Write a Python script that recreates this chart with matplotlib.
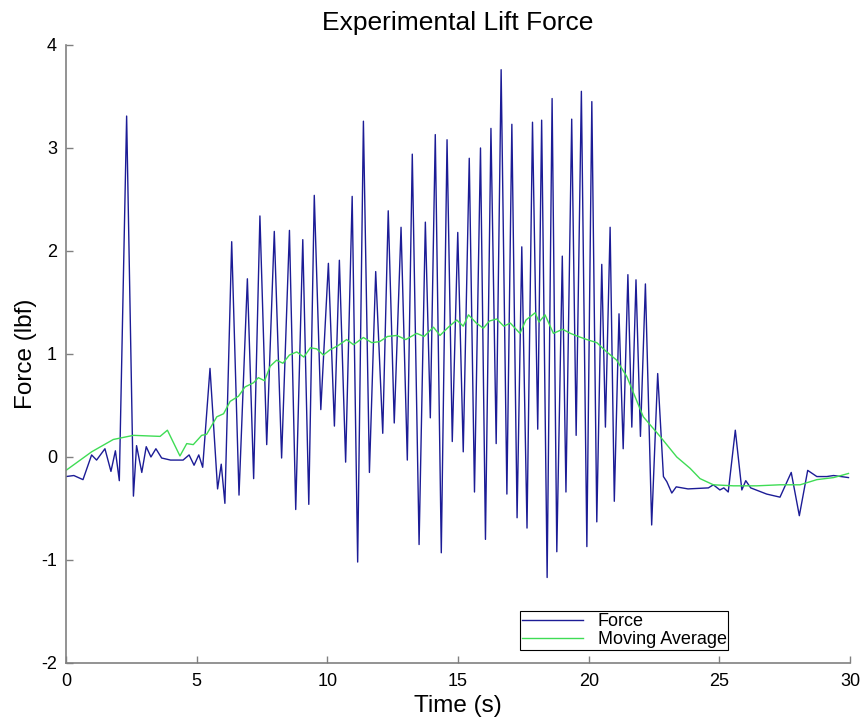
import matplotlib
matplotlib.use('Agg')
import matplotlib.pyplot as plt

# force signal at its turning points
force_t = [0.0, 0.3, 0.65, 0.98, 1.17, 1.49, 1.72, 1.89, 2.04, 2.32,
           2.58, 2.70, 2.90, 3.07, 3.25, 3.44, 3.66, 4.0, 4.48, 4.71,
           4.90, 5.08, 5.23, 5.51, 5.80, 5.94, 6.08, 6.34, 6.62, 6.94,
           7.18, 7.42, 7.68, 7.97, 8.25, 8.55, 8.79, 9.06, 9.29, 9.50,
           9.75, 10.04, 10.27, 10.46, 10.70, 10.95, 11.16, 11.38, 11.61, 11.85,
           12.12, 12.33, 12.56, 12.82, 13.06, 13.25, 13.51, 13.75, 13.94, 14.13,
           14.36, 14.58, 14.78, 14.99, 15.20, 15.43, 15.63, 15.86, 16.05, 16.26,
           16.46, 16.65, 16.87, 17.06, 17.26, 17.44, 17.64, 17.85, 18.05, 18.20,
           18.41, 18.60, 18.78, 18.99, 19.13, 19.35, 19.52, 19.72, 19.93, 20.12,
           20.31, 20.50, 20.64, 20.82, 20.98, 21.16, 21.32, 21.50, 21.65, 21.81,
           21.98, 22.17, 22.41, 22.64, 22.86, 22.99, 23.18, 23.35, 23.8, 24.58,
           24.77, 25.02, 25.17, 25.34, 25.61, 25.86, 26.01, 26.20, 26.81, 27.32,
           27.75, 28.06, 28.38, 28.73, 29.11, 29.37, 29.94]
force_v = [-0.19, -0.18, -0.22, 0.02, -0.03, 0.08, -0.14, 0.06, -0.23, 3.31,
           -0.38, 0.11, -0.15, 0.10, 0.0, 0.08, -0.01, -0.03, -0.03, 0.02,
           -0.08, 0.02, -0.10, 0.86, -0.31, -0.07, -0.45, 2.09, -0.37, 1.73,
           -0.21, 2.34, 0.12, 2.19, -0.01, 2.20, -0.51, 2.11, -0.46, 2.54,
           0.46, 1.88, 0.30, 1.91, -0.05, 2.53, -1.02, 3.26, -0.15, 1.80,
           0.23, 2.39, 0.33, 2.23, -0.03, 2.94, -0.85, 2.28, 0.38, 3.13,
           -0.93, 3.08, 0.15, 2.18, 0.05, 2.90, -0.34, 3.00, -0.80, 3.19,
           0.13, 3.76, -0.36, 3.23, -0.59, 2.04, -0.69, 3.25, 0.27, 3.27,
           -1.17, 3.48, -0.92, 1.95, -0.34, 3.28, 0.21, 3.55, -0.87, 3.45,
           -0.63, 1.87, 0.29, 2.23, -0.43, 1.39, 0.08, 1.77, 0.29, 1.72,
           0.20, 1.68, -0.66, 0.81, -0.19, -0.24, -0.35, -0.29, -0.31, -0.30,
           -0.27, -0.32, -0.30, -0.34, 0.26, -0.32, -0.23, -0.30, -0.36, -0.39,
           -0.15, -0.57, -0.13, -0.19, -0.19, -0.18, -0.20]

# moving average
avg_t = [0.0, 0.98, 1.81, 2.58, 3.6, 3.88, 4.36, 4.62, 4.87, 5.19,
         5.38, 5.77, 6.03, 6.28, 6.6, 6.85, 7.17, 7.36, 7.6, 7.81,
         8.06, 8.3, 8.55, 8.83, 9.1, 9.35, 9.59, 9.85, 10.1, 10.4,
         10.74, 11.0, 11.38, 11.7, 12.0, 12.3, 12.66, 13.0, 13.42, 13.7,
         14.06, 14.31, 14.63, 14.95, 15.2, 15.4, 15.7, 15.97, 16.2, 16.48,
         16.75, 17.0, 17.37, 17.6, 17.95, 18.1, 18.33, 18.65, 19.0, 19.3,
         19.6, 19.93, 20.31, 20.69, 21.07, 21.46, 21.75, 22.09, 22.73, 23.37,
         23.88, 24.26, 24.77, 25.54, 26.43, 27.32, 28.09, 28.73, 29.37, 29.94]
avg_v = [-0.13, 0.05, 0.17, 0.21, 0.20, 0.26, 0.01, 0.13, 0.12, 0.21,
         0.22, 0.39, 0.42, 0.54, 0.59, 0.68, 0.72, 0.77, 0.74, 0.88,
         0.94, 0.91, 0.99, 1.02, 0.97, 1.06, 1.05, 0.99, 1.04, 1.08,
         1.14, 1.09, 1.16, 1.11, 1.12, 1.17, 1.18, 1.14, 1.20, 1.17,
         1.26, 1.18, 1.26, 1.33, 1.27, 1.38, 1.30, 1.25, 1.32, 1.34,
         1.27, 1.30, 1.20, 1.33, 1.40, 1.31, 1.38, 1.20, 1.24, 1.20,
         1.17, 1.14, 1.11, 1.02, 0.94, 0.78, 0.60, 0.39, 0.20, 0.0,
         -0.11, -0.21, -0.27, -0.28, -0.28, -0.27, -0.27, -0.22, -0.20, -0.16]

xticks = [0, 5, 10, 15, 20, 25, 30]
yticks = [-2, -1, 0, 1, 2, 3, 4]

plt.rcParams['font.family'] = ['Liberation Sans', 'DejaVu Sans']
plt.rcParams['axes.unicode_minus'] = False

fig = plt.figure(figsize=(8.65, 7.23), dpi=100)
ax = fig.add_axes([0.0763, 0.083, 0.9064, 0.8548])

ax.plot(force_t, force_v, color='#1c1c96', lw=1.0, label='Force')
ax.plot(avg_t, avg_v, color='#3fdc55', lw=1.0, label='Moving Average')

ax.set_xlim(0, 30)
ax.set_ylim(-2, 4)
ax.set_xticks(xticks)
ax.set_yticks(yticks)
ax.tick_params(direction='in', length=5, width=1, colors='#808080',
               labelcolor='black', labelsize=13)
ax.tick_params(axis='y', pad=6.5)
ax.tick_params(axis='x', pad=7)
for s in ['top', 'right']:
    ax.spines[s].set_visible(False)
for s in ['left', 'bottom']:
    ax.spines[s].set_color('#808080')
    ax.spines[s].set_linewidth(1.2)

ax.set_title("Experimental Lift Force", fontsize=19, pad=11)
ax.set_xlabel("Time (s)", fontsize=17.5, labelpad=4)
ax.set_ylabel("Force (lbf)", fontsize=17.5, labelpad=3)

leg = ax.legend(loc='lower left', bbox_to_anchor=(0.579, 0.021, 0.265, 0.068),
                mode='expand', fontsize=13, fancybox=False, framealpha=1,
                borderpad=0.1, labelspacing=0.05, handlelength=3.4,
                borderaxespad=0)
leg.get_frame().set_edgecolor('black')
leg.get_frame().set_linewidth(0.8)

plt.savefig("out.png", dpi=100)
plt.close()
